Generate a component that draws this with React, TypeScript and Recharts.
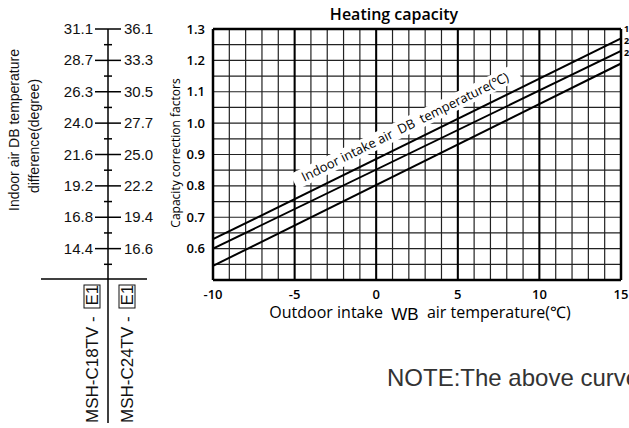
import { LineChart, Line, XAxis, YAxis, CartesianGrid, ReferenceLine } from 'recharts';

// outdoor WB temperature (°C) at the two ends of each curve
const OUTDOOR_WB = [-10, 15];
// capacity correction factor per indoor intake DB temperature
const CURVE_15 = [0.63, 1.27];
const CURVE_20 = [0.6, 1.23];
const CURVE_25 = [0.545, 1.19];
const CURVE_TAGS = ['15', '20', '25'];

const X_GRID = [-10, -9, -8, -7, -6, -5, -4, -3, -2, -1, 0, 1, 2, 3, 4, 5, 6, 7, 8, 9, 10, 11, 12, 13, 14, 15];
const X_LABELS = [-10, -5, 0, 5, 10, 15];
const X_MAJOR = [-5, 0, 5, 10];
const Y_GRID = [0.5, 0.55, 0.6, 0.65, 0.7, 0.75, 0.8, 0.85, 0.9, 0.95, 1.0, 1.05, 1.1, 1.15, 1.2, 1.25, 1.3];
const Y_LABELS = [0.6, 0.7, 0.8, 0.9, 1.0, 1.1, 1.2, 1.3];

// left scale: indoor air DB temperature difference per model
const SCALE_MAJOR = [1.3, 1.2, 1.1, 1.0, 0.9, 0.8, 0.7, 0.6];
const SCALE_MINOR = [1.25, 1.15, 1.05, 0.95, 0.85, 0.75, 0.65, 0.55];
const DIFF_C18 = ['31.1', '28.7', '26.3', '24.0', '21.6', '19.2', '16.8', '14.4'];
const DIFF_C24 = ['36.1', '33.3', '30.5', '27.7', '25.0', '22.2', '19.4', '16.6'];

const data = OUTDOOR_WB.map((x, i) => ({
  x,
  t15: CURVE_15[i],
  t20: CURVE_20[i],
  t25: CURVE_25[i],
}));

const SANS = "'Open Sans', 'Noto Sans', sans-serif";
const ARIAL = "'Liberation Sans', Arial, sans-serif";
const NB = '\u00a0';

const near = (list: number[], v: number) => list.findIndex((m) => Math.abs(m - v) < 1e-6);

function ScaleTick(props: any) {
  const { y, payload } = props;
  const i = near(SCALE_MAJOR, payload.value);
  if (i < 0) {
    return <line x1={104} x2={112} y1={y} y2={y} stroke="#000" strokeWidth={1.5} />;
  }
  return (
    <g>
      <line x1={95} x2={121} y1={y} y2={y} stroke="#000" strokeWidth={1.5} />
      <text x={93} y={y} dy={5} textAnchor="end" fontFamily={ARIAL} fontSize={15} fill="#111">
        {DIFF_C18[i]}
      </text>
      <text x={124} y={y} dy={5} textAnchor="start" fontFamily={ARIAL} fontSize={15} fill="#111">
        {DIFF_C24[i]}
      </text>
    </g>
  );
}

function XTick(props: any) {
  const { x, y, payload } = props;
  if (!X_LABELS.includes(payload.value)) return null;
  return (
    <text x={x} y={y} dy={11} textAnchor="middle" fontFamily={SANS} fontSize={13} fontWeight={600} fill="#000">
      {payload.value}
    </text>
  );
}

function ModelLabel({ x, name }: { x: number; name: string }) {
  return (
    <g transform={`translate(${x},423) rotate(-90)`}>
      <text x={0} y={0} fontFamily={ARIAL} fontSize={17} fill="#111">
        {name} -
      </text>
      <rect x={115} y={-14} width={23} height={16} fill="none" stroke="#111" strokeWidth={1} />
      <text x={117.5} y={0} fontFamily={ARIAL} fontSize={17} fill="#111">
        E1
      </text>
    </g>
  );
}

export default function App() {
  return (
    <div style={{ position: 'absolute', left: 0, top: 0, width: 629, height: 428, background: '#fff' }}>
      <LineChart
        width={629}
        height={428}
        data={data}
        margin={{ top: 29, right: 8, bottom: 118, left: 123 }}
      >
        <CartesianGrid stroke="#222" strokeWidth={1.2} />
        <XAxis
          dataKey="x"
          type="number"
          domain={[-10, 15]}
          ticks={X_GRID}
          interval={0}
          height={30}
          axisLine={false}
          tickLine={false}
          tick={XTick}
          allowDataOverflow
        />
        <YAxis
          type="number"
          domain={[0.5, 1.3]}
          ticks={Y_GRID}
          interval={0}
          width={40}
          axisLine={false}
          tickLine={false}
          tickFormatter={(v: number) => (near(Y_LABELS, v) >= 0 ? v.toFixed(1) : '')}
          tick={{ fill: '#000', fontSize: 13, fontWeight: 600, fontFamily: SANS }}
          allowDataOverflow
        />
        <YAxis
          yAxisId="scale"
          type="number"
          domain={[0.5, 1.3]}
          ticks={[...SCALE_MAJOR, ...SCALE_MINOR]}
          interval={0}
          width={50}
          axisLine={false}
          tickLine={false}
          tick={ScaleTick}
          allowDataOverflow
        />
        {X_MAJOR.map((v) => (
          <ReferenceLine key={v} x={v} stroke="#000" strokeWidth={2} />
        ))}
        <ReferenceLine x={-10} stroke="#000" strokeWidth={2.5} />
        <ReferenceLine x={15} stroke="#000" strokeWidth={2.5} />
        <ReferenceLine y={0.5} stroke="#000" strokeWidth={2.5} />
        <ReferenceLine y={1.3} stroke="#000" strokeWidth={2.5} />
        <Line dataKey="t15" type="linear" stroke="#000" strokeWidth={2} dot={false} isAnimationActive={false} />
        <Line dataKey="t20" type="linear" stroke="#000" strokeWidth={2} dot={false} isAnimationActive={false} />
        <Line dataKey="t25" type="linear" stroke="#000" strokeWidth={2} dot={false} isAnimationActive={false} />
      </LineChart>

      <svg
        width={629}
        height={428}
        style={{ position: 'absolute', left: 0, top: 0, pointerEvents: 'none' }}
      >
        <text x={394} y={20} textAnchor="middle" fontFamily={SANS} fontSize={16} fontWeight={600} fill="#000">
          Heating capacity
        </text>

        <text
          transform="translate(180,153) rotate(-90)"
          textAnchor="middle"
          fontFamily={SANS}
          fontSize={12}
          fill="#000"
        >
          Capacity correction factors
        </text>

        <text transform="translate(19,130) rotate(-90)" textAnchor="middle" fontFamily={ARIAL} fontSize={14} fill="#111">
          Indoor air DB temperature
        </text>
        <text transform="translate(39,136) rotate(-90)" textAnchor="middle" fontFamily={ARIAL} fontSize={14} fill="#111">
          difference(degree)
        </text>

        <line x1={108} x2={108} y1={29} y2={423} stroke="#000" strokeWidth={1.5} />
        <line x1={41} x2={147} y1={279} y2={279} stroke="#000" strokeWidth={1.5} />
        <ModelLabel x={98} name="MSH-C18TV" />
        <ModelLabel x={133} name="MSH-C24TV" />

        <g transform="translate(407,131) rotate(-26.3)">
          <rect x={-124} y={-13} width={250} height={17} fill="#fff" />
          <text x={0} y={0} textAnchor="middle" fontFamily={SANS} fontSize={13} fill="#000">
            {`Indoor intake air ${NB}DB ${NB}temperature(℃)`}
          </text>
        </g>

        {CURVE_TAGS.map((t, i) => (
          <text key={t} x={624} y={32 + i * 12} fontFamily={SANS} fontSize={9} fontWeight={700} fill="#000">
            {t}
          </text>
        ))}

        <text x={420} y={318} textAnchor="middle" fontFamily={SANS} fontSize={16} fill="#000">
          {`Outdoor intake ${NB}`}
          <tspan fontFamily={ARIAL} fontSize={17} dy={2}>
            WB
          </tspan>
          <tspan dy={-2}>{` ${NB}air temperature(℃)`}</tspan>
        </text>

        <text x={387} y={386} fontFamily={ARIAL} fontSize={24} fill="#333">
          NOTE:The above curves
        </text>
      </svg>
    </div>
  );
}
